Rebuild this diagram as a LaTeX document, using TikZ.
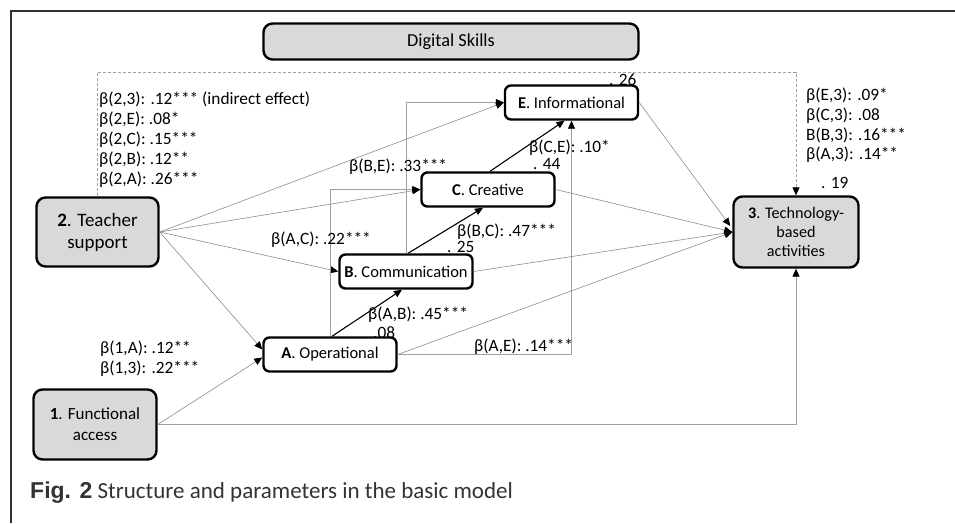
\documentclass[tikz,border=0pt]{standalone}
\usepackage{fontspec}
\setmainfont{Carlito}
\newfontfamily\capbold{Liberation Sans}
\usetikzlibrary{arrows.meta,calc}
\definecolor{boxgray}{HTML}{D9D9D9}
\definecolor{linegray}{HTML}{8C8C8C}
\definecolor{lightline}{HTML}{A0A0A0}
\definecolor{captext}{HTML}{333333}
\tikzset{
  skillbox/.style={draw=black, line width=2.4pt, rounded corners=6pt, fill=white, minimum height=34pt, minimum width=133pt, inner sep=0pt, font=\fontsize{16.5}{18}\selectfont},
  grpbox/.style={draw=black, line width=2.4pt, rounded corners=9pt, fill=boxgray, inner sep=0pt, align=center},
  thin/.style={draw=linegray, line width=0.6pt, -{Triangle[length=8pt,width=7pt,color=black]}},
  ortho/.style={draw=lightline, line width=0.7pt, -{Triangle[length=8pt,width=7pt,color=black]}},
  thickarr/.style={draw=black, line width=1.1pt, -{Triangle[length=8pt,width=7pt]}},
  lbl/.style={anchor=west, inner sep=0pt, font=\fontsize{17.3}{18}\selectfont},
}
\begin{document}
\begin{tikzpicture}[x=1pt,y=-1pt]
\useasboundingbox (0,0) rectangle (955,523);
% frame
\draw[line width=2pt, captext] (11,523) -- (11,11) -- (955,11);
% labels partly behind boxes
\node[lbl] (l26) at (609,80) {. 26};
\node[lbl] (t20) at (373,333) {.08};
% nodes
\node[grpbox, minimum width=375pt, minimum height=36pt, font=\fontsize{18.3}{20}\selectfont] (ds) at (451,41.5) {Digital Skills};
\node[grpbox, minimum width=122pt, minimum height=69pt, font=\fontsize{19}{22}\selectfont] (n2) at (97.5,232) {\textbf{2}. Teacher\\support};
\node[grpbox, minimum width=123pt, minimum height=70pt, font=\fontsize{17}{21}\selectfont] (n1) at (95,424.5) {\textbf{1}. Functional\\access};
\node[grpbox, minimum width=125pt, minimum height=71pt, font=\fontsize{16.2}{19}\selectfont] (n3) at (796,232) {\textbf{3}. Technology-\\based\\activities};
\node[skillbox] (nE) at (571.5,102.5) {\textbf{E}. Informational};
\node[skillbox] (nC) at (488,189.5) {\textbf{C}. Creative};
\node[skillbox] (nB) at (406,271.5) {\textbf{B}. Communication};
\node[skillbox] (nA) at (330,354.5) {\textbf{A}. Operational};
% dashed indirect path
\coordinate (dtop) at (0,72);
\draw[lightline, line width=0.7pt, dashed, dash pattern=on 3pt off 2pt, -{Triangle[length=8pt,width=7pt,color=black]}]
  (n2.north) -- (n2.north |- dtop) -- (n3.north |- dtop) -- (n3.north);
% connectors from 2
\draw[thin] (n2.east) -- (nE.west);
\draw[thin] (n2.east) -- (nC.west);
\draw[thin] (n2.east) -- (nB.west);
\draw[thin] (n2.east) -- ($(nA.west)+(0,-5)$);
% from 1
\draw[thin] (n1.east) -- ($(nA.west)+(0,3)$);
\draw[ortho] (n1.east) -| (n3.south);
% orthogonal skill paths
\draw[ortho] (nB.north) |- (nE.west);
\draw[ortho] (nA.north) |- (nC.west);
\draw[ortho] (nA.east) -| (nE.south);
% thick chain
\draw[thickarr] ($(nA.north)+(2,0)$) -- ($(nB.south)+(-4,0)$);
\draw[thickarr] ($(nB.north)+(2,0)$) -- ($(nC.south)+(-5,0)$);
\draw[thickarr] ($(nC.north)+(2,0)$) -- ($(nE.south)+(-7,0)$);
% to 3
\draw[thin] (nA.east) -- (n3.west);
\draw[thin] (nB.east) -- (n3.west);
\draw[thin] (nC.east) -- (n3.west);
\draw[thin] (nE.east) -- ($(n3.west)+(-2,-6)$);
% labels
\node[lbl] (t1) at (99,100) {β(2,3): .12*** (indirect effect)};
\node[lbl] (t2) at (99,120) {β(2,E): .08*};
\node[lbl] (t3) at (99,140) {β(2,C): .15***};
\node[lbl] (t4) at (99,160) {β(2,B): .12**};
\node[lbl] (t5) at (99,180) {β(2,A): .26***};
\node[lbl] (t6) at (806,96) {β(E,3): .09*};
\node[lbl] (t7) at (806,116) {β(C,3): .08};
\node[lbl] (t8) at (806,135) {B(B,3): .16***};
\node[lbl] (t9) at (806,155) {β(A,3): .14**};
\node[lbl] (t10) at (821,183) {. 19};
\node[lbl] (t11) at (100,349) {β(1,A): .12**};
\node[lbl] (t12) at (100,369) {β(1,3): .22***};
\node[lbl] (t13) at (349,167) {β(B,E): .33***};
\node[lbl] (t14) at (271,240) {β(A,C): .22***};
\node[lbl] (t15) at (457,232) {β(B,C): .47***};
\node[lbl] (t16) at (447,247) {. 25};
\node[lbl] (t17) at (529,148) {β(C,E): .10*};
\node[lbl] (t18) at (533,164) {. 44};
\node[lbl] (t19) at (368,315) {β(A,B): .45***};
\node[lbl] (t21) at (474,347) {β(A,E): .14***};
% caption
\node[anchor=west, inner sep=0pt, text=captext, font=\fontsize{23}{26}\selectfont] (cap) at (30,493) {{\capbold\bfseries Fig. 2} Structure and parameters in the basic model};
\end{tikzpicture}
\end{document}
